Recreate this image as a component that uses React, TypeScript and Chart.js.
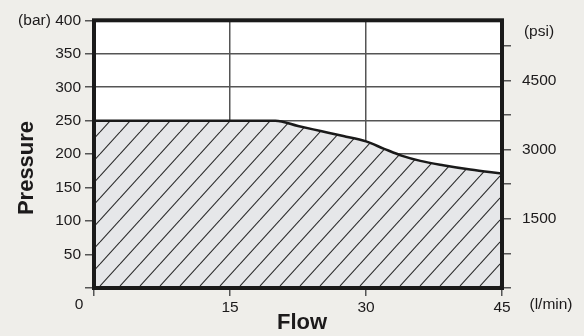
import { useEffect, useRef } from 'react';
import { Chart, registerables } from 'chart.js';

Chart.register(...registerables);

// Flow (l/min) vs pressure (bar) envelope
const flowValues = [0, 20, 22.5, 25, 27.5, 30, 32, 34, 36, 38.5, 41.5, 45];
const pressureValues = [250, 250, 242, 234.5, 227, 219, 208, 197.5, 190, 183.5, 177, 171];

const xTickValues = [0, 15, 30, 45];
const barTickValues = [0, 50, 100, 150, 200, 250, 300, 350, 400];
const psiTickValues = [0, 750, 1500, 2250, 3000, 3750, 4500, 5250];
const psiLabelValues = [1500, 3000, 4500];
const BAR_TO_PSI = 14.5038;

const TEXT = '#1c1a1b';
const FONT = '"Liberation Sans", Arial, sans-serif';

function makePattern(): CanvasPattern | string {
  const w = 20;
  const h = 22;
  const pc = document.createElement('canvas');
  pc.width = w;
  pc.height = h;
  const c = pc.getContext('2d');
  if (!c) return '#e7e8ea';
  c.fillStyle = '#e6e7e9';
  c.fillRect(0, 0, w, h);
  c.strokeStyle = '#2a2a2a';
  c.lineWidth = 1.1;
  for (const dx of [-w, 0, w]) {
    c.beginPath();
    c.moveTo(dx, h);
    c.lineTo(dx + w, 0);
    c.stroke();
  }
  const p = c.createPattern(pc, 'repeat');
  return p || '#e7e8ea';
}

const decoPlugin = {
  id: 'deco',
  beforeDraw(chart: any) {
    const { ctx, chartArea: a, width, height } = chart;
    ctx.save();
    ctx.fillStyle = '#efeeea';
    ctx.fillRect(0, 0, width, height);
    ctx.fillStyle = '#ffffff';
    ctx.fillRect(a.left, a.top, a.right - a.left, a.bottom - a.top);
    ctx.restore();
  },
  afterDraw(chart: any) {
    const { ctx, chartArea: a } = chart;
    ctx.save();
    ctx.strokeStyle = '#1a1a1a';
    ctx.lineWidth = 4;
    ctx.strokeRect(a.left, a.top, a.right - a.left, a.bottom - a.top);

    ctx.fillStyle = TEXT;
    ctx.textAlign = 'center';
    ctx.textBaseline = 'middle';
    ctx.font = `15.5px ${FONT}`;
    ctx.fillText('0', 79, 305);
    ctx.fillText('(l/min)', 551, 305);
    ctx.fillText('(psi)', 539, 32);

    ctx.font = `bold 22px ${FONT}`;
    ctx.fillText('Flow', 302, 323);
    ctx.translate(27, 168);
    ctx.rotate(-Math.PI / 2);
    ctx.fillText('Pressure', 0, 0);
    ctx.restore();
  },
};

export default function App() {
  const ref = useRef<HTMLCanvasElement>(null);

  useEffect(() => {
    if (!ref.current) return;
    const pattern = makePattern();
    const gridColor = '#555555';
    const tickFont = { family: FONT, size: 15.5 };
    const chart = new Chart(ref.current, {
      type: 'line',
      data: {
        datasets: [
          {
            data: flowValues.map((x, i) => ({ x, y: pressureValues[i] })),
            borderColor: '#1a1a1a',
            borderWidth: 2.5,
            backgroundColor: pattern as any,
            fill: 'origin',
            pointRadius: 0,
            cubicInterpolationMode: 'monotone',
          },
        ],
      },
      options: {
        animation: false,
        responsive: false,
        devicePixelRatio: 1,
        layout: { padding: { top: 18, left: 0, right: 0, bottom: 0 } },
        plugins: { legend: { display: false }, tooltip: { enabled: false } },
        scales: {
          x: {
            type: 'linear',
            min: 0,
            max: 45,
            z: 1,
            afterBuildTicks: (s: any) => {
              s.ticks = xTickValues.map((v) => ({ value: v }));
            },
            afterFit: (s: any) => {
              s.height = 48;
            },
            ticks: {
              autoSkip: false,
              maxRotation: 0,
              padding: 2,
              color: TEXT,
              font: tickFont,
              callback: (v: any) => (v === 0 ? '' : String(v)),
            },
            grid: { color: gridColor, lineWidth: 1.5, tickLength: 8 },
            border: { display: false },
          },
          y: {
            type: 'linear',
            position: 'left',
            min: 0,
            max: 400,
            z: 1,
            afterBuildTicks: (s: any) => {
              s.ticks = barTickValues.map((v) => ({ value: v }));
            },
            afterFit: (s: any) => {
              s.width = 94;
            },
            ticks: {
              autoSkip: false,
              padding: 4,
              color: TEXT,
              font: tickFont,
              callback: (v: any) => (v === 400 ? '(bar) 400' : v === 0 ? '' : String(v)),
            },
            grid: { color: gridColor, lineWidth: 1.5, tickLength: 9 },
            border: { display: false },
          },
          y2: {
            type: 'linear',
            position: 'right',
            min: 0,
            max: 400 * BAR_TO_PSI,
            z: 1,
            afterBuildTicks: (s: any) => {
              s.ticks = psiTickValues.map((v) => ({ value: v }));
            },
            afterFit: (s: any) => {
              s.width = 82;
            },
            ticks: {
              autoSkip: false,
              padding: 11,
              color: TEXT,
              font: tickFont,
              callback: (v: any) => (psiLabelValues.includes(v) ? String(v) : ''),
            },
            grid: { color: gridColor, lineWidth: 1.5, tickLength: 9, drawOnChartArea: false },
            border: { display: false },
          },
        },
      },
      plugins: [decoPlugin],
    });
    return () => chart.destroy();
  }, []);

  return (
    <div style={{ position: 'fixed', left: 0, top: 0, width: 584, height: 336 }}>
      <canvas ref={ref} width={584} height={336} style={{ display: 'block' }} />
    </div>
  );
}
